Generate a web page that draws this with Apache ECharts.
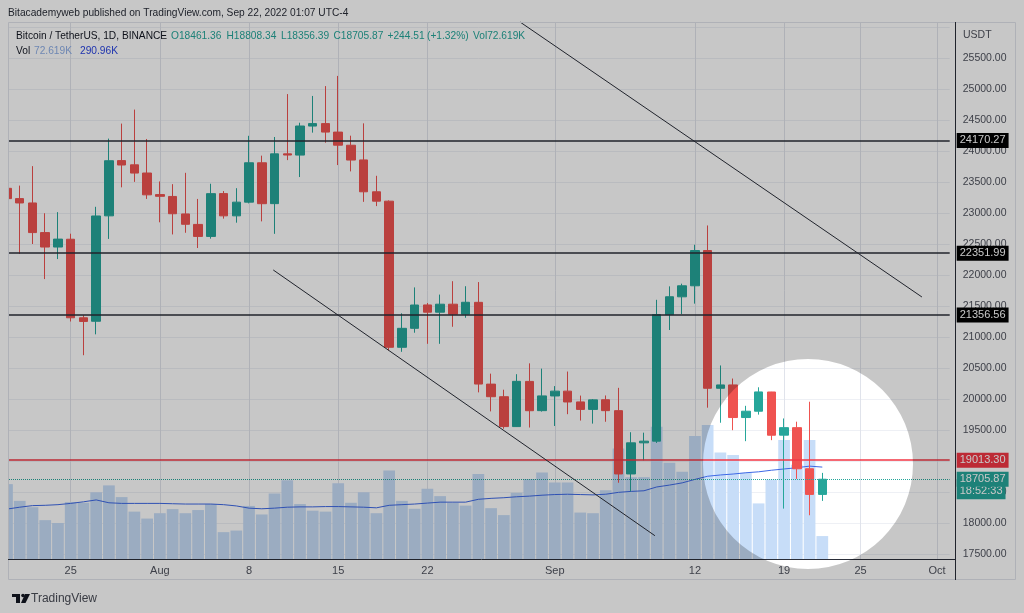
<!DOCTYPE html>
<html><head><meta charset="utf-8">
<script src="https://cdn.jsdelivr.net/npm/echarts@6/dist/echarts.min.js"></script>
<style>html,body{margin:0;padding:0;background:#fff}#c{width:1024px;height:613px}</style>
</head><body><div id="c"></div>
<script>
// ---------- DATA ----------
const categories = [
 'Jul 20','Jul 21','Jul 22','Jul 23','Jul 24','Jul 25','Jul 26','Jul 27','Jul 28','Jul 29','Jul 30','Jul 31',
 'Aug 1','Aug 2','Aug 3','Aug 4','Aug 5','Aug 6','Aug 7','Aug 8','Aug 9','Aug 10','Aug 11','Aug 12','Aug 13','Aug 14','Aug 15',
 'Aug 16','Aug 17','Aug 18','Aug 19','Aug 20','Aug 21','Aug 22','Aug 23','Aug 24','Aug 25','Aug 26','Aug 27','Aug 28','Aug 29','Aug 30','Aug 31',
 'Sep 1','Sep 2','Sep 3','Sep 4','Sep 5','Sep 6','Sep 7','Sep 8','Sep 9','Sep 10','Sep 11','Sep 12','Sep 13','Sep 14','Sep 15',
 'Sep 16','Sep 17','Sep 18','Sep 19','Sep 20','Sep 21','Sep 22','Sep 23','Sep 24','Sep 25','Sep 26','Sep 27','Sep 28','Sep 29','Sep 30',
 'Oct 1','Oct 2'
];
const tickDates = ['Jul 25','Aug 1','Aug 8','Aug 15','Aug 22','Sep 1','Sep 12','Sep 19','Sep 25','Oct 1'];
const tickTexts = ['25','Aug','8','15','22','Sep','12','19','25','Oct'];

const openP  = [23398,23232,23162,22684,22451,22577,21310,21254,22954,23845,23777,23645,
  23297,23267,22985,22816,22622,23313,22954,23175,23810,23151,23954,23934,24402,24442,24305,
  24093,23856,23342,23191,20834,21140,21517,21400,21529,21368,21559,20240,20037,19555,20284,19812,
  20049,20127,19953,19832,19988,19812,18791,19293,19320,21361,21648,21826,22395,20173,20227,
  19701,19803,20113,19417,19538,18875,18461.36];
const closeP = [23232,23162,22684,22451,22579,21310,21251,22952,23843,23774,23644,23293,
  23269,22988,22818,22622,23312,22954,23175,23810,23150,23954,23935,24403,24442,24305,24094,
  23854,23342,23191,20834,21140,21516,21400,21529,21368,21560,20241,20037,19555,20285,19811,20050,
  20127,19952,19832,19986,19812,18791,19293,19320,21361,21649,21826,22395,20173,20227,19701,
  19803,20114,19416,19538,18875,18461.36,18705.87];
const lowP   = [23052,22341,22500,21934,22257,21250,20706,21043,22582,23414,23502,23227,
  22850,22654,22681,22435,22586,22909,22844,23155,22865,22664,23853,23580,24296,24134,23773,
  23671,23180,23111,20783,20761,21069,20890,20890,21165,21310,20107,19800,19520,19550,19540,19797,
  19565,19755,19652,19603,19633,18649,18511,19011,19291,21113,21369,21538,19860,19617,19497,
  19320,19748,19336,18232,18711,18125,18356.39];
const highP  = [24276,23442,23756,22996,23014,22666,21350,23100,24200,24442,24668,24194,
  23509,23465,23648,23227,23472,23354,23400,24245,23925,24226,24918,24456,24888,25047,25211,
  24247,24446,23600,23203,21382,21800,21548,21684,21900,21819,21886,20409,20150,20400,20575,20490,
  20208,20443,20055,20000,20057,20180,19464,19457,21600,21817,21860,22488,22799,20541,20330,
  19890,20189,20115,19686,19634,19956,18808.34];
// volume in thousands (K)
const volumeK = [237,184,164,123,114,180,178,211,233,196,150,128,
  145,158,145,155,174,85,90,168,141,207,249,174,153,150,240,
  178,211,145,280,184,159,222,199,178,169,269,161,139,210,253,274,
  242,242,147,145,218,350,259,259,419,305,276,389,424,337,329,
  273,176,252,377,298,377,72.619];
const volumeMA = [158,164,169,170,172,176,181,187,178,176,176,176,
  176,175,174,174,174,172,168,161,159,161,164,165,165,166,166,
  165,164,162,170,172,174,177,180,180,180,189,192,194,197,199,202,
  204,205,204,203,205,211,214,216,228,234,241,252,262,266,269,
  273,276,281,285,289,294,290.96];
const priceMin = 17500, priceMax = 26000, priceStep = 500;
const volMax = 1700;
const resistanceLevels = [24170.27, 22351.99, 21356.56];
const redLevel = 19013.30;
const countdown = '18:52:33';
// trend lines: [day index from Jul 20, price]
const trendUpper = [[40.27, 26081], [71.82, 21645]];
const trendLower = [[20.90, 22081], [50.86, 17795]];

// ---------- CHART ----------
const UP = '#26a69a', DOWN = '#ef5350';
const FONT = 'Liberation Sans, Arial, sans-serif';
const candleData = openP.map((o, i) => [o, closeP[i], lowP[i], highP[i]]);
const last = openP.length - 1;
const f2 = v => v.toFixed(2);
const chg = closeP[last] - closeP[last - 1];
const pct = chg / closeP[last - 1] * 100;
const volText = v => v.toFixed(v < 100 ? 3 : 2) + 'K';

const chart = echarts.init(document.getElementById('c'), null, {renderer: 'canvas'});

const gridL = 7, gridR = 74.3;
const tagLabel = (text, bg, extra) => Object.assign({
  show: true, position: 'end', distance: 7, formatter: text,
  backgroundColor: bg, color: '#ffffff', padding: [2, 3, 1, 3],
  fontSize: 11, fontFamily: FONT, lineHeight: 12
}, extra || {});

const markLines = resistanceLevels.map(v => ({
  yAxis: v,
  lineStyle: {color: '#2a2e39', width: 1.5, type: 'solid'},
  label: tagLabel(f2(v), '#000000')
}));
markLines.push({
  yAxis: redLevel,
  lineStyle: {color: '#f23645', width: 1.5, type: 'solid'},
  label: tagLabel(f2(redLevel), '#f23645')
});
markLines.push({
  yAxis: closeP[last],
  lineStyle: {color: 'rgba(0,0,0,0)', width: 1, type: 'solid'},
  label: tagLabel(countdown, UP, {verticalAlign: 'top', padding: [6, 3, 2, 3]})
});
markLines.push({
  yAxis: closeP[last],
  lineStyle: {color: UP, width: 1, type: 'dotted'},
  label: tagLabel(f2(closeP[last]), UP)
});

const legendItems = [
  [16, '{d|Bitcoin / TetherUS, 1D, BINANCE}'],
  [171, '{v|O' + f2(openP[last]) + '}'],
  [226.5, '{v|H' + f2(highP[last]) + '}'],
  [281, '{v|L' + f2(lowP[last]) + '}'],
  [333.5, '{v|C' + f2(closeP[last]) + '}'],
  [387.5, '{v|+' + f2(chg) + '}'],
  [427, '{v|(+' + pct.toFixed(2) + '%)}'],
  [473, '{v|Vol' + volText(volumeK[last]) + '}']
];
const LF = 10.2;
const richLegend = {
  d: {fill: '#131722', fontSize: LF, fontFamily: FONT},
  v: {fill: '#26a69a', fontSize: LF, fontFamily: FONT},
  vb: {fill: '#8eaee6', fontSize: LF, fontFamily: FONT},
  vm: {fill: '#2944e0', fontSize: LF, fontFamily: FONT}
};

const graphics = [
  // cover left margin so the first (half) candle is cut at the pane edge
  {type: 'rect', z: 25, silent: true, shape: {x: 0, y: 20, width: 8.5, height: 562}, style: {fill: '#ffffff'}},
  {type: 'text', z: 20, x: 8, y: 13, style: {text: 'Bitacademyweb published on TradingView.com, Sep 22, 2022 01:07 UTC-4', fill: '#2a2e39', font: LF + 'px ' + FONT, verticalAlign: 'middle'}},
  {type: 'text', z: 20, x: 963, y: 35, style: {text: 'USDT', fill: '#50535e', font: '10.5px ' + FONT, verticalAlign: 'middle'}},
  {type: 'text', z: 20, x: 16, y: 51, style: {text: '{d|Vol}', rich: richLegend, verticalAlign: 'middle'}},
  {type: 'text', z: 20, x: 34, y: 51, style: {text: '{vb|' + volText(volumeK[last]) + '}', rich: richLegend, verticalAlign: 'middle'}},
  {type: 'text', z: 20, x: 80, y: 51, style: {text: '{vm|' + volText(volumeMA[last]) + '}', rich: richLegend, verticalAlign: 'middle'}},
  // frame
  {type: 'rect', z: 30, shape: {x: 8.5, y: 22.5, width: 1007, height: 557}, style: {fill: null, stroke: '#e0e3eb', lineWidth: 1}},
  {type: 'line', z: 31, shape: {x1: 955.5, y1: 22, x2: 955.5, y2: 580}, style: {stroke: '#2a2e39', lineWidth: 1}},
  {type: 'line', z: 31, shape: {x1: 8, y1: 559.5, x2: 955, y2: 559.5}, style: {stroke: '#2a2e39', lineWidth: 1}},
  // footer logo
  {type: 'rect', z: 20, shape: {x: 12, y: 594, width: 8, height: 3}, style: {fill: '#131722'}},
  {type: 'rect', z: 20, shape: {x: 16, y: 594, width: 4, height: 9}, style: {fill: '#131722'}},
  {type: 'circle', z: 20, shape: {cx: 23, cy: 595.5, r: 1.8}, style: {fill: '#131722'}},
  {type: 'polygon', z: 20, shape: {points: [[25, 594], [30, 594], [25.5, 603], [21, 603]]}, style: {fill: '#131722'}},
  {type: 'text', z: 20, x: 31, y: 599, style: {text: 'TradingView', fill: '#4a4d57', font: '12px ' + FONT, verticalAlign: 'middle'}}
];
legendItems.forEach(([x, t]) => graphics.push({type: 'text', z: 20, x: x, y: 36, style: {text: t, rich: richLegend, verticalAlign: 'middle'}}));
// spotlight overlay (dims everything except the circle)
graphics.push({type: 'ring', z: 100, silent: true, shape: {cx: 808, cy: 464, r0: 105, r: 1400},
  style: {fill: 'rgba(0,0,0,0.22)'}});

const option = {
  animation: false,
  backgroundColor: '#ffffff',
  grid: [
    {left: gridL, right: gridR, top: 27, bottom: 59, outerBoundsMode: 'none', containLabel: false},
    {left: gridL, right: gridR, top: 22, bottom: 54, outerBoundsMode: 'none', containLabel: false}
  ],
  xAxis: [
    {type: 'category', gridIndex: 0, data: categories, boundaryGap: false,
     axisLine: {show: false}, axisTick: {show: false}, axisLabel: {show: false}, splitLine: {show: false}},
    {type: 'category', gridIndex: 1, data: categories, boundaryGap: false,
     axisLine: {show: false}, axisTick: {show: false},
     axisLabel: {show: true, margin: 6, color: '#50535e', fontSize: 11, fontFamily: FONT,
       interval: (i, v) => tickDates.indexOf(v) >= 0,
       formatter: v => { const k = tickDates.indexOf(v); return k >= 0 ? tickTexts[k] : ''; }},
     splitLine: {show: true, interval: (i, v) => tickDates.indexOf(v) >= 0, lineStyle: {color: '#e0e3eb', width: 1}}},
    {type: 'value', gridIndex: 0, min: 0, max: categories.length - 1, show: false}
  ],
  yAxis: [
    {type: 'value', gridIndex: 0, position: 'right', offset: 5, min: priceMin, max: priceMax, interval: priceStep,
     axisLine: {show: false}, axisTick: {show: false},
     axisLabel: {show: true, margin: 8, color: '#50535e', fontSize: 10.5, fontFamily: FONT, showMaxLabel: false,
       formatter: v => v.toFixed(2)},
     splitLine: {show: true, lineStyle: {color: '#eef0f5', width: 1}}},
    {type: 'value', gridIndex: 1, min: 0, max: volMax, show: false, splitLine: {show: false}}
  ],
  series: [
    {type: 'bar', name: 'Volume', xAxisIndex: 1, yAxisIndex: 1, data: volumeK, barWidth: 11.7,
     itemStyle: {color: '#c7ddf8'}, z: 1, silent: true},
    {type: 'line', name: 'Volume MA', xAxisIndex: 1, yAxisIndex: 1, data: volumeMA, symbol: 'none',
     lineStyle: {color: '#3d68e6', width: 1}, z: 2, silent: true},
    {type: 'candlestick', name: 'BTCUSDT', xAxisIndex: 0, yAxisIndex: 0, data: candleData, barWidth: 9, z: 5, clip: true,
     itemStyle: {color: UP, color0: DOWN, borderColor: UP, borderColor0: DOWN, borderWidth: 1},
     markLine: {silent: true, symbol: ['none', 'none'], precision: 2, data: markLines, z: 6}},
    {type: 'line', name: 'Trend upper', xAxisIndex: 2, yAxisIndex: 0, data: trendUpper, symbol: 'none', clip: false,
     lineStyle: {color: '#2a2e39', width: 1}, z: 7, silent: true},
    {type: 'line', name: 'Trend lower', xAxisIndex: 2, yAxisIndex: 0, data: trendLower, symbol: 'none', clip: false,
     lineStyle: {color: '#2a2e39', width: 1}, z: 7, silent: true}
  ],
  graphic: graphics
};
chart.setOption(option);
</script>
</body></html>
